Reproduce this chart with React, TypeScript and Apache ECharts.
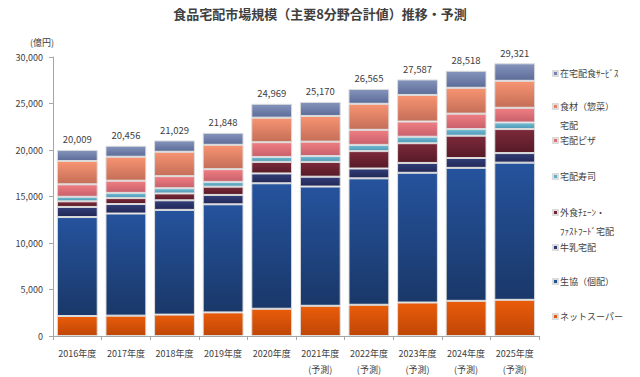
import React, { useEffect, useRef } from "react";
import * as echarts from "echarts";

const categories = [
  "2016年度", "2017年度", "2018年度", "2019年度", "2020年度",
  "2021年度\n(予測)", "2022年度\n(予測)", "2023年度\n(予測)", "2024年度\n(予測)", "2025年度\n(予測)",
];

const netSuper = [2150, 2190, 2300, 2540, 2930, 3250, 3360, 3600, 3780, 3890];
const coop = [10640, 10980, 11260, 11620, 13490, 12820, 13590, 13950, 14300, 14750];
const milk = [1090, 1020, 1030, 1010, 1060, 1060, 1060, 1060, 1060, 1030];
const gaishoku = [600, 640, 740, 890, 1240, 1590, 1870, 2120, 2400, 2580];
const sushi = [490, 560, 560, 510, 530, 630, 670, 700, 710, 710];
const pizza = [1340, 1310, 1300, 1370, 1590, 1550, 1620, 1630, 1660, 1580];
const shokuzai = [2510, 2580, 2620, 2620, 2640, 2760, 2800, 2860, 2780, 2900];
const zaitaku = [1189, 1176, 1219, 1288, 1489, 1510, 1595, 1667, 1828, 1881];
const totals = [20009, 20456, 21029, 21848, 24969, 25170, 26565, 27587, 28518, 29321];

const yTicks = [0, 5000, 10000, 15000, 20000, 25000, 30000];

const FONT = "'Noto Sans CJK JP', 'Noto Sans', sans-serif";
const TXT = "#404040";

const grad = (top: string, bottom: string) =>
  new echarts.graphic.LinearGradient(0, 0, 0, 1, [
    { offset: 0, color: top },
    { offset: 1, color: bottom },
  ]);

export default function App() {
  const ref = useRef<HTMLDivElement>(null);
  useEffect(() => {
    if (!ref.current) return;
    const chart = echarts.init(ref.current, undefined, { renderer: "svg" });

    const seriesDefs = [
      { name: "ネットスーパー", data: netSuper, c: grad("#ea5c0a", "#bf4606"), ly: 318 },
      { name: "生協（個配）", data: coop, c: grad("#25539d", "#1a3869"), ly: 283 },
      { name: "牛乳宅配", data: milk, c: grad("#323e78", "#222857"), ly: 249 },
      { name: "外食ﾁｪｰﾝ・", data: gaishoku, c: grad("#7c2a3a", "#571a27"), ly: 214 },
      { name: "宅配寿司", data: sushi, c: grad("#74bcd4", "#4c98b6"), ly: 178 },
      { name: "宅配ピザ", data: pizza, c: grad("#f07e82", "#c8606c"), ly: 142 },
      { name: "食材（惣菜）", data: shokuzai, c: grad("#f79472", "#c56e58"), ly: 108 },
      { name: "在宅配食ｻｰﾋﾞｽ", data: zaitaku, c: grad("#8494bc", "#5c6c98"), ly: 75 },
    ];
    const legendColors = ["#e35a0e", "#225095", "#2c3670", "#6e2434", "#62aecb", "#e27078", "#e88466", "#7484ae"];

    const series = seriesDefs.map((s, i) => ({
      name: s.name,
      type: "bar",
      stack: "total",
      data: s.data,
      barWidth: "84%",
      itemStyle: { color: s.c, borderColor: "#dcdcdc", borderWidth: 1 },
      label:
        i === seriesDefs.length - 1
          ? {
              show: true,
              position: "top",
              distance: 6,
              color: TXT,
              fontSize: 9.5,
              fontFamily: FONT,
              formatter: (p: any) => totals[p.dataIndex].toLocaleString("en-US"),
            }
          : { show: false },
      emphasis: { disabled: true },
    }));

    const legends = seriesDefs.map((s, i) => ({
      data: [{ name: s.name, itemStyle: { color: legendColors[i] } }],
      left: 552,
      top: s.ly - 6,
      padding: 0,
      orient: "vertical",
      icon: "rect",
      itemWidth: 5,
      itemHeight: 5,
      itemGap: 0,
      textStyle: { color: TXT, fontSize: 9, fontFamily: FONT, padding: [0, 0, 0, -3] },
      selectedMode: false,
    }));

    chart.setOption({
      animation: false,
      backgroundColor: "#ffffff",
      title: {
        text: "食品宅配市場規模（主要8分野合計値）推移・予測",
        left: "center",
        top: 7,
        padding: 0,
        textStyle: { color: TXT, fontSize: 13, fontWeight: "bold", fontFamily: FONT },
      },
      legend: legends,
      grid: { left: 53, right: 101, top: 57, bottom: 37, containLabel: false },
      xAxis: {
        type: "category",
        data: categories,
        axisLine: { lineStyle: { color: "#a6a6a6" } },
        axisTick: { show: true, length: 4, lineStyle: { color: "#a6a6a6" } },
        axisLabel: {
          color: TXT,
          fontSize: 9,
          fontFamily: FONT,
          margin: 9,
          lineHeight: 16,
          interval: 0,
        },
      },
      yAxis: {
        type: "value",
        min: yTicks[0],
        max: yTicks[yTicks.length - 1],
        interval: 5000,
        splitLine: { show: false },
        axisLine: { show: true, lineStyle: { color: "#a6a6a6" } },
        axisTick: { show: true, length: 4, lineStyle: { color: "#a6a6a6" } },
        axisLabel: {
          color: TXT,
          fontSize: 9,
          fontFamily: FONT,
          margin: 10,
          formatter: (v: number) => v.toLocaleString("en-US"),
        },
      },
      graphic: [
        {
          type: "text",
          x: 42,
          y: 42,
          style: { text: "(億円)", fill: TXT, fontSize: 9, fontFamily: FONT, textAlign: "center", textVerticalAlign: "middle" },
        },
        {
          type: "text",
          x: 560,
          y: 125,
          style: { text: "宅配", fill: TXT, fontSize: 9, fontFamily: FONT, textAlign: "left", textVerticalAlign: "middle" },
        },
        {
          type: "text",
          x: 560,
          y: 231,
          style: { text: "ﾌｧｽﾄﾌｰﾄﾞ宅配", fill: TXT, fontSize: 9, fontFamily: FONT, textAlign: "left", textVerticalAlign: "middle" },
        },
      ],
      series,
    });
    return () => chart.dispose();
  }, []);
  return <div ref={ref} style={{ width: 640, height: 377, position: "fixed", left: 0, top: 0 }} />;
}
